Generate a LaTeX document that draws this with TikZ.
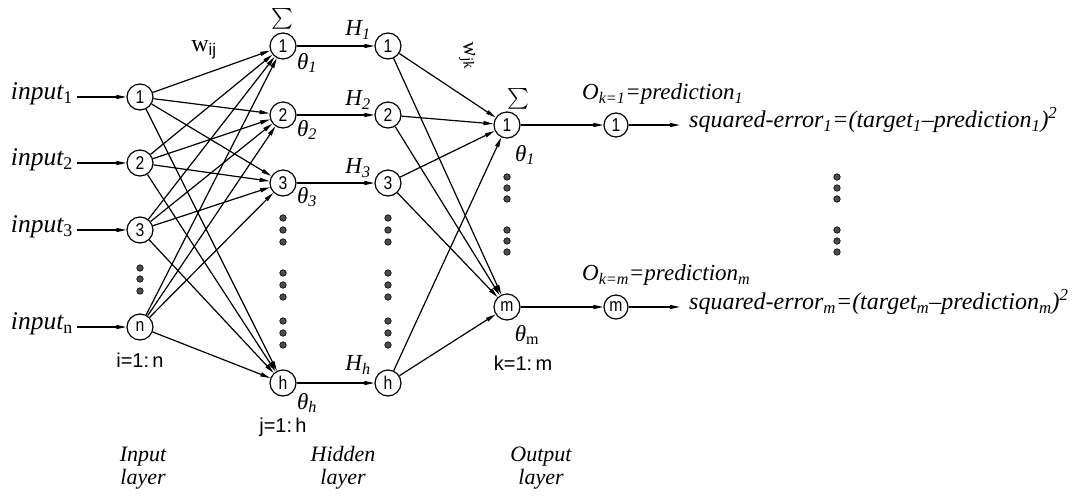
\documentclass[tikz,border=0pt]{standalone}
\usepackage{amsmath}
\usepackage{fontspec}
\setmainfont{Liberation Serif}
\newfontfamily\nf[FakeStretch=0.85]{Liberation Sans}
\newfontfamily\lsans{Liberation Sans}
\usetikzlibrary{arrows.meta}
\begin{document}
\begin{tikzpicture}[x=1pt,y=-1pt,
  neuron/.style={circle,draw,line width=1.2pt,minimum size=26pt,inner sep=0pt,font=\nf\fontsize{18.5}{18.5}\selectfont},
  fnode/.style={neuron,minimum size=24pt},
  conn/.style={line width=1.2pt,-{Triangle[length=10pt,width=4pt]}},
  lbl/.style={font=\fontsize{23}{23}\selectfont\itshape,inner sep=0pt},
  dotn/.style={circle,draw,fill=gray!60!black,line width=0.6pt,minimum size=6.5pt,inner sep=0pt},
  sans/.style={font=\lsans\fontsize{20}{22}\selectfont,inner sep=0pt}]
\useasboundingbox (0,0) rectangle (1085,499);
% input layer
\node[neuron] (i1) at (140,97) {1};
\node[neuron] (i2) at (140,163) {2};
\node[neuron] (i3) at (140,230) {3};
\node[neuron] (iN) at (140,327) {n};
\node[lbl,anchor=mid east,font=\fontsize{25.5}{25.5}\selectfont\itshape] (li1) at (73,97) {input\textsubscript{\upshape 1}};
\node[lbl,anchor=mid east,font=\fontsize{25.5}{25.5}\selectfont\itshape] (li2) at (73,163) {input\textsubscript{\upshape 2}};
\node[lbl,anchor=mid east,font=\fontsize{25.5}{25.5}\selectfont\itshape] (li3) at (73,230) {input\textsubscript{\upshape 3}};
\node[lbl,anchor=mid east,font=\fontsize{25.5}{25.5}\selectfont\itshape] (liN) at (73,327) {input\textsubscript{\upshape n}};
\foreach \a/\b in {li1/i1,li2/i2,li3/i3,liN/iN}
  \draw[conn,shorten <=4pt] (\a.mid east) -- (\b);
% hidden sums
\node[neuron] (s1) at (283,46) {1};
\node[neuron] (s2) at (283,115) {2};
\node[neuron] (s3) at (283,183) {3};
\node[neuron] (sh) at (283,383) {h};
% hidden activations
\node[neuron] (a1) at (388,46) {1};
\node[neuron] (a2) at (388,115) {2};
\node[neuron] (a3) at (388,183) {3};
\node[neuron] (ah) at (388,383) {h};
% output
\node[neuron] (o1) at (507,125) {1};
\node[neuron] (om) at (507,307) {m};
\node[fnode] (f1) at (616,125) {1};
\node[fnode] (fm) at (616,307) {m};
\coordinate (e1) at (680,125);
\coordinate (em) at (680,307);
% connections
\foreach \a in {i1,i2,i3,iN}
  \foreach \b in {s1,s2,s3,sh}
    \draw[conn] (\a) -- (\b);
\foreach \a/\b in {s1/a1,s2/a2,s3/a3,sh/ah}
  \draw[conn] (\a) -- (\b);
\foreach \a in {a1,a2,a3,ah}
  \foreach \b in {o1,om}
    \draw[conn] (\a) -- (\b);
\draw[conn] (o1) -- (f1);
\draw[conn] (om) -- (fm);
\draw[conn] (f1) -- (e1);
\draw[conn] (fm) -- (em);
% dots
\foreach \y [count=\k] in {268,279,291}
  \node[dotn] (di\k) at (140,\y) {};
\foreach \y [count=\k] in {218,230,242,273,285,297,321,333,345} {
  \node[dotn] (ds\k) at (283,\y) {};
  \node[dotn] (da\k) at (388,\y) {};
}
\foreach \y [count=\k] in {177,188,199,230,241,252} {
  \node[dotn] (do\k) at (507,\y) {};
  \node[dotn] (dr\k) at (837,\y) {};
}
% labels
\node[inner sep=0pt] (sig1) at (282,19) {\fontsize{21}{21}\selectfont$\sum$};
\node[inner sep=0pt] (sig2) at (518,99) {\fontsize{21}{21}\selectfont$\sum$};
\node[inner sep=0pt] (wij) at (204,50) {\fontsize{24}{24}\selectfont w\textsubscript{\lsans ij}};
\node[inner sep=0pt,rotate=-78] (wjk) at (467,56) {\fontsize{22}{22}\selectfont\itshape w\textsubscript{jk}};
\node[lbl] (t1) at (307,63) {θ\textsubscript{1}};
\node[lbl] (t2) at (307,130) {θ\textsubscript{2}};
\node[lbl] (t3) at (307,197) {θ\textsubscript{3}};
\node[lbl] (th) at (307,403) {θ\textsubscript{h}};
\node[lbl] (to1) at (525,155) {θ\textsubscript{1}};
\node[lbl] (tom) at (527,335) {θ\textsubscript{\upshape m}};
\node[lbl] (H1) at (358,30) {H\textsubscript{1}};
\node[lbl] (H2) at (358,100) {H\textsubscript{2}};
\node[lbl] (H3) at (358,168) {H\textsubscript{3}};
\node[lbl] (Hh) at (358,365) {H\textsubscript{h}};
\node[sans] (ri) at (140,360) {i=1:\,n};
\node[sans] (rj) at (283,427) {j=1:\,h};
\node[sans] (rk) at (523,363) {k=1:\,m};
\node[lbl,align=center,font=\fontsize{22}{23}\selectfont\itshape] (L1) at (143,468) {Input\\layer};
\node[lbl,align=center,font=\fontsize{22}{23}\selectfont\itshape] (L2) at (343,468) {Hidden\\layer};
\node[lbl,align=center,font=\fontsize{22}{23}\selectfont\itshape] (L3) at (541,468) {Output\\layer};
\node[lbl,anchor=mid west] (p1) at (582,97) {O\textsubscript{k=1}=prediction\textsubscript{1}};
\node[lbl,anchor=mid west] (pm) at (582,278) {O\textsubscript{k=m}=prediction\textsubscript{m}};
\node[lbl,anchor=mid west,font=\fontsize{24}{24}\selectfont\itshape] (q1) at (689,125) {squared-error\textsubscript{1}=(target\textsubscript{1}–prediction\textsubscript{1})\textsuperscript{2}};
\node[lbl,anchor=mid west,font=\fontsize{24}{24}\selectfont\itshape] (qm) at (689,307) {squared-error\textsubscript{m}=(target\textsubscript{m}–prediction\textsubscript{m})\textsuperscript{2}};
\end{tikzpicture}
\end{document}
